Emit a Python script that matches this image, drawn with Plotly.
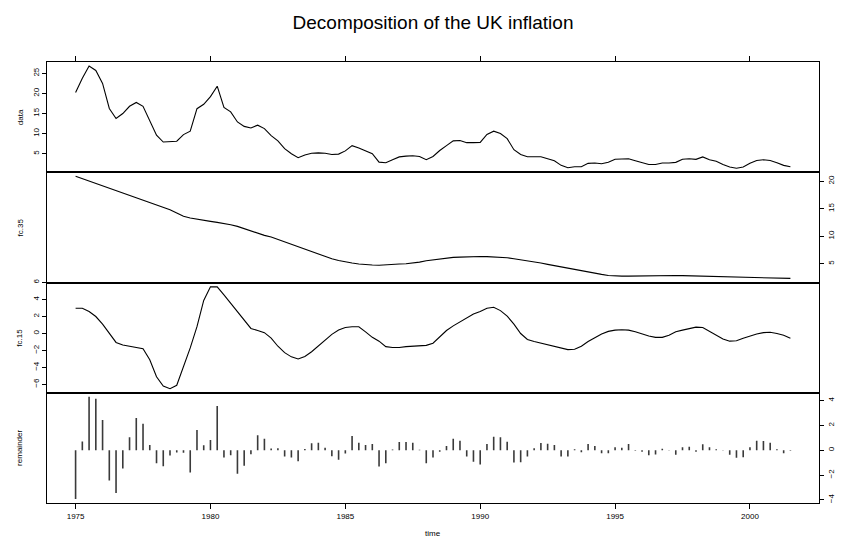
import plotly.graph_objects as go

start_year = 1975
freq = 4

data = [20.25, 23.75, 26.8, 25.7,
        22.5, 16.25, 13.75, 15.0,
        16.8, 17.75, 16.8, 13.3,
        9.6, 7.9, 8.0, 8.1,
        9.75, 10.6, 16.2, 17.3,
        19.2, 21.8, 16.5, 15.4,
        12.9, 11.8, 11.4, 12.1,
        11.25, 9.5, 8.2, 6.25,
        5.0, 4.0, 4.7, 5.1,
        5.2, 5.1, 4.8, 4.9,
        5.7, 7.0, 6.4, 5.7,
        5.0, 2.9, 2.75, 3.5,
        4.2, 4.4, 4.5, 4.3,
        3.5, 4.3, 5.8, 7.0,
        8.2, 8.3, 7.75, 7.75,
        7.8, 9.8, 10.6, 10.0,
        8.75, 6.0, 4.8, 4.25,
        4.25, 4.25, 3.75, 3.25,
        2.1, 1.5, 1.75, 1.75,
        2.6, 2.7, 2.5, 2.85,
        3.6, 3.6, 3.75, 3.25,
        2.75, 2.3, 2.3, 2.7,
        2.7, 2.85, 3.6, 3.75,
        3.6, 4.2, 3.5, 3.1,
        2.3, 1.7, 1.4, 1.7,
        2.6, 3.3, 3.5, 3.3,
        2.75, 2.1, 1.75]

fc35 = [20.9, 20.47, 20.04, 19.6,
        19.17, 18.73, 18.3, 17.87,
        17.45, 17.0, 16.56, 16.13,
        15.69, 15.26, 14.84, 14.23,
        13.62, 13.32, 13.08, 12.9,
        12.71, 12.53, 12.35, 12.1,
        11.8, 11.38, 10.95, 10.59,
        10.16, 9.86, 9.43, 9.0,
        8.52, 8.1, 7.6, 7.13,
        6.7, 6.28, 5.9, 5.6,
        5.3, 5.12, 4.94, 4.82,
        4.76, 4.73, 4.76, 4.82,
        4.94, 5.0, 5.12, 5.3,
        5.55, 5.73, 5.9, 6.03,
        6.15, 6.2, 6.27, 6.3,
        6.33, 6.3, 6.27, 6.2,
        6.1, 5.9, 5.73, 5.55,
        5.3, 5.12, 4.88, 4.64,
        4.4, 4.15, 3.9, 3.66,
        3.42, 3.24, 3.06, 2.87,
        2.78, 2.75, 2.75, 2.78,
        2.81, 2.84, 2.87, 2.87,
        2.87, 2.87, 2.84, 2.81,
        2.81, 2.78, 2.75, 2.72,
        2.69, 2.66, 2.63, 2.57,
        2.54, 2.51, 2.48, 2.45,
        2.42, 2.39, 2.33]

fc15 = [2.97, 2.97, 2.6, 2.0,
        1.1, 0.0, -1.05, -1.35,
        -1.5, -1.6, -1.8, -3.1,
        -5.1, -6.2, -6.5, -6.1,
        -4.0, -1.7, 0.8, 3.9,
        5.5, 5.5, 4.55, 3.55,
        2.65, 1.6, 0.6, 0.35,
        0.1, -0.55, -1.5, -2.25,
        -2.75, -3.0, -2.7, -2.15,
        -1.5, -0.75, -0.1, 0.4,
        0.7, 0.8, 0.8, 0.2,
        -0.45, -0.9, -1.55, -1.65,
        -1.65, -1.55, -1.5, -1.45,
        -1.4, -1.15, -0.35, 0.35,
        0.9, 1.4, 1.9, 2.3,
        2.6, 2.97, 3.1, 2.7,
        2.05, 1.1, 0.0, -0.7,
        -0.95, -1.15, -1.35, -1.55,
        -1.75, -1.9, -1.85, -1.5,
        -0.95, -0.45, -0.05, 0.25,
        0.4, 0.45, 0.4, 0.2,
        -0.05, -0.3, -0.45, -0.45,
        -0.2, 0.2, 0.4, 0.6,
        0.75, 0.7, 0.25, -0.2,
        -0.65, -0.9, -0.85, -0.55,
        -0.3, -0.05, 0.1, 0.15,
        0.0, -0.2, -0.55]

remainder = [-3.92, 0.7, 4.3, 4.15,
             2.43, -2.43, -3.44, -1.47,
             1.04, 2.59, 2.13, 0.43,
             -1.04, -1.28, -0.43, -0.19,
             -0.21, -1.79, 1.63, 0.4,
             0.83, 3.57, -0.59, -0.4,
             -1.89, -1.25, -0.32, 1.2,
             0.93, 0.13, 0.16, -0.5,
             -0.59, -0.88, 0.1, 0.56,
             0.61, 0.21, -0.48, -0.77,
             -0.27, 1.15, 0.61, 0.43,
             0.51, -1.31, -1.04, 0.05,
             0.67, 0.67, 0.61, 0.03,
             -1.04, -0.59, -0.13, 0.35,
             0.93, 0.77, -0.5, -0.93,
             -1.15, 0.51, 1.09, 1.04,
             0.69, -0.99, -0.96, -0.5,
             0.16, 0.59, 0.53, 0.43,
             -0.5, -0.5, 0.08, -0.16,
             0.51, 0.35, -0.24, -0.24,
             0.24, 0.21, 0.51, -0.05,
             -0.13, -0.4, -0.35, 0.11,
             -0.03, -0.37, 0.24, 0.29,
             -0.13, 0.48, 0.24, 0.08,
             -0.03, -0.37, -0.61, -0.56,
             0.24, 0.77, 0.75, 0.61,
             0.08, -0.24, -0.05]

panel_labels = ["data", "fc.35", "fc.15", "remainder"]
x_ticks = [1975, 1980, 1985, 1990, 1995, 2000]
y_ticks = [[5, 10, 15, 20, 25], [5, 10, 15, 20], [-6, -4, -2, 0, 2, 4, 6], [-4, -2, 0, 2, 4]]

time = [start_year + i / freq for i in range(len(data))]


def rrange(v, pad_hi=0.04):
    lo, hi = min(v), max(v)
    r = hi - lo
    return [lo - 0.04 * r, hi + pad_hi * r]


FONT = "Liberation Sans, Arial, Helvetica, sans-serif"
fig = go.Figure()

series = [data, fc35, fc15]
for k, s in enumerate(series):
    suf = "" if k == 0 else str(k + 1)
    fig.add_trace(go.Scatter(x=time, y=s, mode="lines", xaxis="x" + suf, yaxis="y" + suf,
                             line=dict(color="black", width=1.1), showlegend=False, hoverinfo="skip"))

# remainder as vertical lines from zero (R type="h")
hx, hy = [], []
for t, r in zip(time, remainder):
    hx += [t, t, None]
    hy += [0, r, None]
fig.add_trace(go.Scatter(x=hx, y=hy, mode="lines", xaxis="x4", yaxis="y4",
                         line=dict(color="#3a3a3a", width=1.6), showlegend=False, hoverinfo="skip"))

xr = rrange(time)
domains = [[0.75, 1.0], [0.5, 0.75], [0.25, 0.5], [0.0, 0.25]]
yranges = [rrange(data), rrange(fc35), rrange(fc15, 0.0425), rrange(remainder)]
sides = ["left", "right", "left", "right"]

layout = dict(
    width=849, height=542,
    margin=dict(l=47, r=30, t=62, b=39),
    paper_bgcolor="white", plot_bgcolor="white",
    font=dict(family=FONT, size=8, color="black"),
    title=dict(text="Decomposition of the UK inflation", x=0.5, xref="paper",
               y=1 - 22 / 542, yref="container", yanchor="middle", xanchor="center",
               font=dict(family=FONT, size=19, color="black")),
    showlegend=False,
)

for k in range(4):
    suf = "" if k == 0 else str(k + 1)
    xa = dict(domain=[0, 1], range=xr, anchor="y" + suf, showgrid=False, zeroline=False,
              showline=True, mirror=True, linecolor="black", linewidth=1,
              tickvals=x_ticks, ticklen=5, tickcolor="black", tickwidth=1)
    if k == 0:
        xa.update(side="top", ticks="outside", showticklabels=False)
    elif k == 3:
        xa.update(side="bottom", ticks="outside", showticklabels=True,
                  tickfont=dict(size=8, family=FONT, color="black"))
    else:
        xa.update(ticks="", showticklabels=False)
    ya = dict(domain=domains[k], range=yranges[k], anchor="x" + suf, side=sides[k],
              showgrid=False, zeroline=False, showline=True, mirror=True, linecolor="black",
              linewidth=1, tickvals=y_ticks[k], ticks="outside", ticklen=4, tickcolor="black",
              tickangle=-90, tickfont=dict(size=8, family=FONT, color="black"))
    layout["xaxis" + suf] = xa
    layout["yaxis" + suf] = ya

annotations = []
for k, lab in enumerate(panel_labels):
    annotations.append(dict(text=lab, xref="paper", yref="paper", x=-27 / 772,
                            y=sum(domains[k]) / 2, xanchor="center", yanchor="middle",
                            textangle=-90, showarrow=False,
                            font=dict(size=8, family=FONT, color="black")))
annotations.append(dict(text="time", xref="paper", yref="paper", x=0.5, y=-30 / 441,
                        xanchor="center", yanchor="middle", showarrow=False,
                        font=dict(size=8, family=FONT, color="black")))
layout["annotations"] = annotations

fig.update_layout(**layout)
fig.write_html("out.html", config={"displayModeBar": False},
               post_script="document.body.style.margin='0';document.body.style.padding='0';")
